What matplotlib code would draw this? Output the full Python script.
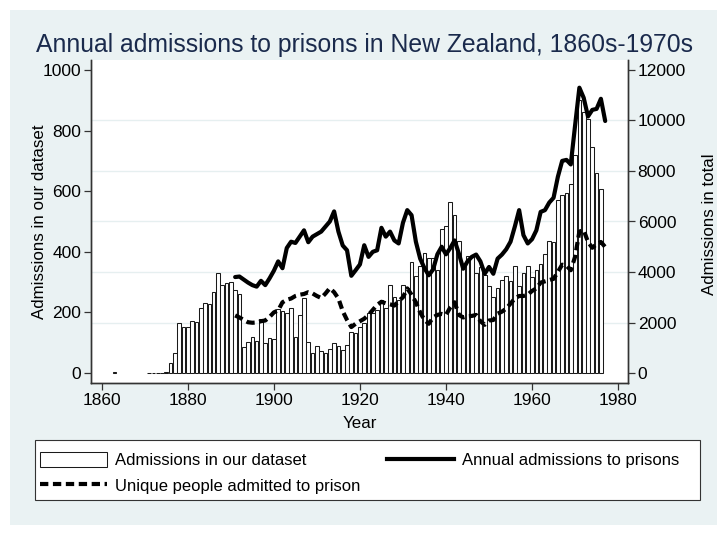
import numpy as np
import matplotlib
matplotlib.use("Agg")
import matplotlib.pyplot as plt
from matplotlib.patches import Rectangle, Patch
from matplotlib.lines import Line2D

plt.rcParams['font.family'] = ['Liberation Sans', 'DejaVu Sans']

# ---------------- data ----------------
bar_years = [1863] + list(range(1871, 1977))
bar_values = ([2] + [0, 0, 0, 0, 4] +
              [34, 65, 164, 151, 151, 172, 167, 216, 230, 227, 268, 331, 290, 296, 301, 274,
               261, 87, 101, 120, 107, 177, 98, 117, 112, 210, 206, 198, 213, 120, 191, 246] +
              [103, 67, 89, 73, 67, 78, 98, 89, 76, 92, 136, 131, 153, 166, 197, 199, 208,
               241, 213, 290, 250, 241, 290, 280, 367, 320, 353, 397, 378, 380, 340, 474, 485, 565] +
              [521, 436, 345, 387, 384, 331, 351, 323, 287, 252, 279, 307, 320, 304, 353, 287,
               329, 353, 316, 340, 359, 393, 436, 433, 571, 587, 595, 624, 720, 900, 862, 837,
               747, 659, 606])

line_years = list(range(1891, 1978))
annual_total = [3800, 3820, 3700, 3580, 3480, 3420, 3650, 3480, 3750, 4050,
                4420, 4150, 4950, 5200, 5150, 5400, 5650, 5180, 5400, 5500,
                5600, 5800, 6000, 6400, 5600, 5050, 4860, 3850, 4070, 4300,
                5060, 4600, 4800, 4860, 5750, 5400, 5600, 5250, 5130, 5950,
                6450, 6250, 5200, 4530, 4150, 3870, 4100, 4700, 5000, 4700,
                4950, 5250, 4730, 4130, 4420, 4600, 4690, 4420, 3930, 4200,
                3930, 4530, 4690, 4900, 5200, 5800, 6450, 5460, 5130, 5300,
                5650, 6380, 6450, 6750, 6940, 7770, 8400, 8440, 8260, 9800,
                11300, 10900, 10160, 10420, 10460, 10860, 9980]
unique_people = [2280, 2200, 2100, 2010, 1990, 2000, 2050, 2080, 2220, 2400,
                 2480, 2800, 2900, 2950, 3050, 3100, 3130, 3200, 3150, 3050,
                 2970, 3150, 3360, 3200, 2950, 2450, 2100, 1820, 1950, 2050,
                 2150, 2300, 2500, 2700, 2820, 2760, 2720, 2670, 2850, 3000,
                 3350, 3100, 2800, 2400, 2100, 1950, 2200, 2300, 2340, 2300,
                 2600, 2800, 2300, 2200, 2250, 2260, 2300, 2050, 1910, 2080,
                 2100, 2350, 2430, 2550, 2750, 2950, 3050, 3050, 3100, 3250,
                 3350, 3580, 3630, 3680, 3730, 4000, 4290, 4250, 4070, 4600,
                 5600, 5660, 5190, 4960, 5100, 5190, 4990]

x_ticks = [1860, 1880, 1900, 1920, 1940, 1960, 1980]
left_ticks = [0, 200, 400, 600, 800, 1000]
right_ticks = [0, 2000, 4000, 6000, 8000, 10000, 12000]

title = "Annual admissions to prisons in New Zealand, 1860s-1970s"
x_title = "Year"
left_title = "Admissions in our dataset"
right_title = "Admissions in total"
lab_bars = "Admissions in our dataset"
lab_total = "Annual admissions to prisons"
lab_unique = "Unique people admitted to prison"

# ---------------- figure ----------------
W, H = 728, 535
fig = plt.figure(figsize=(W / 100, H / 100), dpi=100, facecolor='white')
bg = '#EAF2F3'
fig.patches.append(Rectangle((10 / W, 10 / H), 707 / W, 515 / H, transform=fig.transFigure,
                             facecolor=bg, edgecolor='none', zorder=-10))

ax = fig.add_axes([91 / W, (H - 383) / H, (628 - 91) / W, (383 - 60) / H])
ax.set_facecolor('white')
ax2 = ax.twinx()

ratio = 12.0
ylo, yhi = -33, 1033
ax.set_ylim(ylo, yhi)
ax2.set_ylim(ylo * ratio, yhi * ratio)
ax.set_xlim(1857.5, 1982.3)

ax.bar(bar_years, bar_values, width=0.85, facecolor='white', edgecolor='#1a1a1a',
       linewidth=0.75, zorder=2)

ax2.plot(line_years, annual_total, color='black', lw=3.0, solid_joinstyle='round',
         solid_capstyle='round', zorder=3)
ax2.plot(line_years, unique_people, color='black', lw=3.0, dashes=(2.0, 1.1),
         dash_capstyle='butt', zorder=3)

# grid at right-axis ticks
ax.set_yticks(np.array(right_ticks) / ratio, minor=True)
ax.grid(True, which='minor', axis='y', color='#E6EFF0', lw=1.0, zorder=0)
ax.set_axisbelow(True)

fs_tick = 12.5
fs_lab = 12.2
ax.set_xticks(x_ticks)
ax.set_yticks(left_ticks)
ax2.set_yticks(right_ticks)
ax.tick_params(axis='both', which='major', direction='out', length=5, width=0.9,
               labelsize=fs_tick, color='#333333', pad=2)
ax.tick_params(axis='y', which='minor', length=0)
ax2.tick_params(axis='y', direction='out', length=5, width=0.9, labelsize=fs_tick,
                color='#333333', pad=2)

for a in (ax, ax2):
    a.spines['top'].set_visible(False)
    for s in ('left', 'right', 'bottom'):
        a.spines[s].set_color('#333333')
        a.spines[s].set_linewidth(1.0)

ax.set_xlabel(x_title, fontsize=fs_lab, labelpad=6)
ax.set_ylabel(left_title, fontsize=fs_lab)
ax.yaxis.set_label_coords((47 - 91) / 537, 0.5)
ax2.set_ylabel(right_title, fontsize=fs_lab)
ax2.yaxis.set_label_coords((702 - 91) / 537, 0.49)

fig.text(0.5, (H - 45) / H, title, ha='center', va='center', fontsize=17.8, color='#1a2a4c')

# legend box
fig.patches.append(Rectangle((35 / W, (H - 500) / H), 665 / W, 60 / H, transform=fig.transFigure,
                             facecolor='white', edgecolor='#333333', linewidth=0.8, zorder=1))
handles = [Patch(facecolor='white', edgecolor='#1a1a1a', linewidth=0.75),
           Line2D([], [], color='black', lw=3.0, dashes=(2.0, 1.1)),
           Line2D([], [], color='black', lw=3.0)]
labels = [lab_bars, lab_unique, lab_total]
leg = fig.legend(handles, labels, loc='upper left', ncol=2,
                 bbox_to_anchor=(40 / W, (H - 452) / H),
                 fontsize=12, frameon=False, handlelength=4.0,
                 handleheight=1.0, handletextpad=0.5, borderpad=0.0, labelspacing=0.55,
                 columnspacing=1.6, borderaxespad=0)
leg.set_zorder(5)

fig.savefig("out.png", dpi=100, facecolor=fig.get_facecolor())
